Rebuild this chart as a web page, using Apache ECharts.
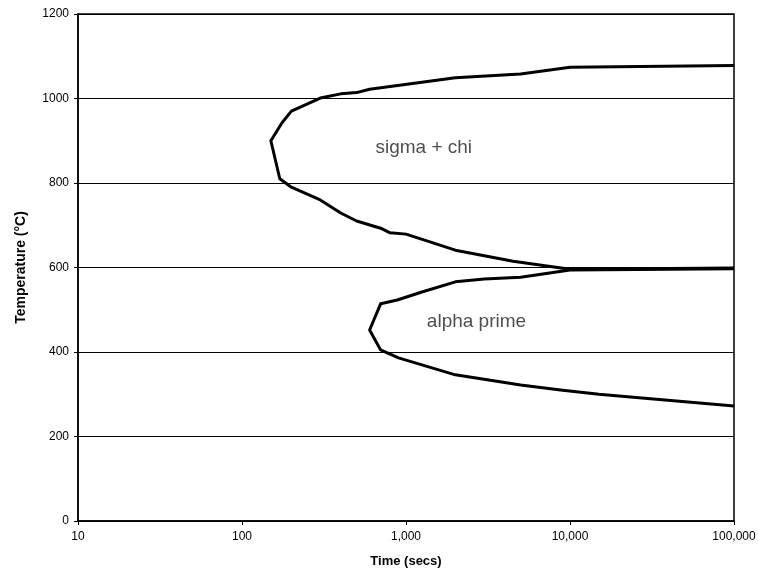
<!DOCTYPE html>
<html>
<head>
<meta charset="utf-8">
<script src="https://cdn.jsdelivr.net/npm/echarts@6/dist/echarts.min.js"></script>
<style>
html,body{margin:0;padding:0;background:#fff;}
#chart{width:759px;height:580px;}
</style>
</head>
<body>
<div id="chart"></div>
<script>
// Sigma + chi boundary (time in secs, temperature in °C), traced from upper-right round to lower-right
const sigmaTime = [100000, 10000, 5000, 2000, 600, 500, 400, 300, 200, 175, 150, 170, 200, 300, 400, 500, 700, 800, 1000, 2000, 4500, 10000, 100000];
const sigmaTemp = [1078, 1074, 1058, 1049, 1022, 1014, 1011, 1001, 970, 942, 900, 810, 790, 760, 729, 710, 693, 682, 679, 641, 615, 596, 599];

// Alpha prime boundary
const alphaTime = [100000, 10000, 5000, 3000, 2000, 1250, 885, 700, 600, 700, 900, 2000, 5000, 8750, 15000, 100000];
const alphaTemp = [597, 594, 577, 573, 566, 542, 523, 514, 452, 405, 386, 346, 322, 310, 300, 272];

// Region labels
const labelNames = ['sigma + chi', 'alpha prime'];
const labelTime = [1283, 2690];
const labelTemp = [883, 471];

// Axis settings
const xTicks = [10, 100, 1000, 10000, 100000];
const yMin = 0, yMax = 1200, yStep = 200;

const FONT = '"Liberation Sans", Arial, Helvetica, sans-serif';

function pairs(xs, ys) { return xs.map((x, i) => [x, ys[i]]); }
function fmtComma(v) {
  const r = Math.round(v);
  return r.toString().replace(/\B(?=(\d{3})+(?!\d))/g, ',');
}
function fmtPlain(v) { return String(Math.round(v)); }

const chart = echarts.init(document.getElementById('chart'), null, {renderer: 'canvas'});
chart.setOption({
  animation: false,
  backgroundColor: '#fff',
  grid: {
    left: 78, right: 25, top: 14, bottom: 59,
    show: true, borderColor: '#000', borderWidth: 1.5, backgroundColor: 'transparent'
  },
  xAxis: {
    type: 'log', logBase: 10, min: xTicks[0], max: xTicks[xTicks.length - 1],
    name: 'Time (secs)', nameLocation: 'middle', nameGap: 34,
    nameTextStyle: {fontFamily: FONT, fontSize: 13, fontWeight: 'bold', color: '#000'},
    axisLine: {show: true, lineStyle: {color: '#000', width: 1.5}},
    axisTick: {show: true, inside: false, length: 4, lineStyle: {color: '#000', width: 1}},
    minorTick: {show: false},
    splitLine: {show: false},
    axisLabel: {fontFamily: FONT, fontSize: 12, color: '#000', margin: 10, formatter: fmtComma}
  },
  yAxis: {
    type: 'value', min: yMin, max: yMax, interval: yStep,
    name: 'Temperature (°C)', nameLocation: 'middle', nameGap: 50, nameRotate: 90,
    nameTextStyle: {fontFamily: FONT, fontSize: 14, fontWeight: 'bold', color: '#000'},
    axisLine: {show: true, lineStyle: {color: '#000', width: 1.5}},
    axisTick: {show: true, inside: false, length: 4, lineStyle: {color: '#000', width: 1}},
    splitLine: {show: true, lineStyle: {color: '#000', width: 1}},
    axisLabel: {fontFamily: FONT, fontSize: 12, color: '#000', margin: 9, formatter: fmtPlain}
  },
  series: [
    {
      name: 'sigma + chi', type: 'line', data: pairs(sigmaTime, sigmaTemp),
      symbol: 'none', smooth: false,
      lineStyle: {color: '#000', width: 3, join: 'round'}
    },
    {
      name: 'alpha prime', type: 'line', data: pairs(alphaTime, alphaTemp),
      symbol: 'none', smooth: false,
      lineStyle: {color: '#000', width: 3, join: 'round'}
    },
    {
      name: 'labels', type: 'scatter', symbolSize: 0, silent: true,
      data: labelNames.map((n, i) => ({name: n, value: [labelTime[i], labelTemp[i]]})),
      label: {
        show: true, position: 'inside', formatter: p => p.name,
        fontFamily: FONT, fontSize: 19, color: '#222'
      }
    }
  ]
});
</script>
</body>
</html>
